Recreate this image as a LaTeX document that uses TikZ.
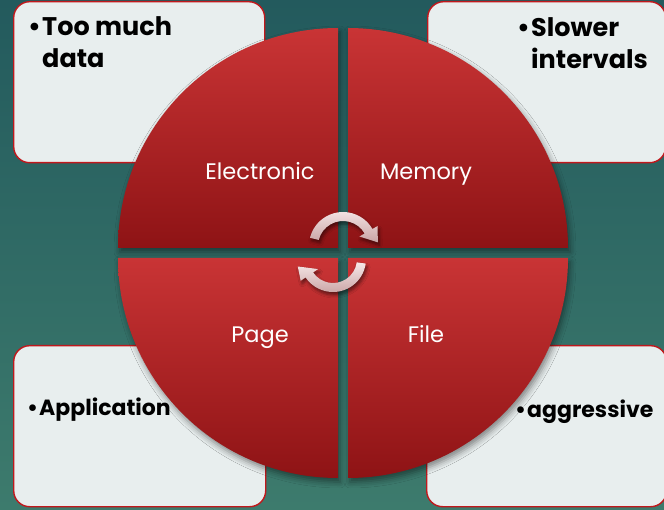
\documentclass[tikz,border=0pt]{standalone}
\usepackage{fontspec}
\setmainfont{Poppins}
\usetikzlibrary{shadows.blur}
\definecolor{bgtop}{HTML}{235A5D}
\definecolor{bgbot}{HTML}{3D7B6D}
\definecolor{redtop}{HTML}{C93435}
\definecolor{redmid}{HTML}{B42729}
\definecolor{redbot}{HTML}{8E1315}
\definecolor{boxfill}{HTML}{E8EEEE}
\definecolor{boxline}{HTML}{C0181C}
\definecolor{arrowtop}{HTML}{F6E8E8}
\definecolor{arrowbot}{HTML}{C9A2A3}
\begin{document}
\begin{tikzpicture}[x=1pt,y=1pt,
  infobox/.style={draw=boxline, line width=1.4pt, fill=boxfill,
    rounded corners=16pt, anchor=north west, inner sep=0pt},
  quad/.style={top color=redtop, middle color=redmid, bottom color=redbot,
    blur shadow={shadow xshift=2pt, shadow yshift=-4pt,
      shadow blur radius=6pt, shadow opacity=45}},
  cycarrow/.style={top color=arrowtop, bottom color=arrowbot,
    blur shadow={shadow xshift=1.5pt, shadow yshift=-3pt,
      shadow blur radius=3pt, shadow opacity=50}},
  qlabel/.style={text=white, font=\fontsize{22.5}{26}\selectfont, inner sep=0pt},
  btext/.style={font=\bfseries\fontsize{22}{32}\selectfont, text=black,
    align=left, inner sep=0pt, anchor=base west},
  btextbig/.style={btext, font=\bfseries\fontsize{25.5}{32}\selectfont},
]
\useasboundingbox (0,0) rectangle (664,509);
\shade[top color=bgtop, bottom color=bgbot] (0,0) rectangle (664,509);

% corner boxes
\node[infobox, minimum width=251pt, minimum height=161pt] (boxTL) at (13,508) {};
\node[infobox, minimum width=238pt, minimum height=161pt] (boxTR) at (427,508) {};
\node[infobox, minimum width=252pt, minimum height=161pt] (boxBL) at (13,164) {};
\node[infobox, minimum width=240pt, minimum height=161pt] (boxBR) at (426,164) {};

% box texts (two-line texts sit on the baseline of their last line)
\node[btextbig] (bulTL) at (28,473) {•};
\node[btextbig] (txtTL) at (42,441) {Too much\\data};
\node[btextbig] (bulTR) at (517,472) {•};
\node[btextbig] (txtTR) at (531,440) {Slower\\intervals};
\node[btext] (bulBL) at (27,93) {•};
\node[btext] (txtBL) at (39,93) {Application};
\node[btext] (bulBR) at (515,92) {•};
\node[btext] (txtBR) at (527,92) {aggressive};

% circle split into four quadrants
\shade[quad] (338,261) -- (118,261) arc[start angle=180, end angle=90, radius=220] -- cycle;
\shade[quad] (348,261) -- (348,481) arc[start angle=90, end angle=0, radius=220] -- cycle;
\shade[quad] (338,251) -- (338,31) arc[start angle=270, end angle=180, radius=220] -- cycle;
\shade[quad] (348,251) -- (568,251) arc[start angle=0, end angle=-90, radius=220] -- cycle;

% quadrant labels
\node[qlabel, anchor=base] (qElec) at (260,329) {Electronic};
\node[qlabel, anchor=base] (qMem) at (426,329) {Memory};
\node[qlabel, anchor=base] (qPage) at (260,166) {Page};
\node[qlabel, anchor=base] (qFile) at (426,166) {File};

% circular arrows in the middle
\shade[cycarrow]
  ([shift={(343,263)}]166:34) arc[start angle=166, end angle=30, radius=34]
  -- ([shift={(343,263)}]30:40) -- ([shift={(343,263)}]6:35)
  -- ([shift={(343,263)}]30:19) -- ([shift={(343,263)}]30:25)
  arc[start angle=30, end angle=166, radius=25] -- cycle;
\shade[cycarrow]
  ([shift={(333,250)}]-8:33) arc[start angle=-8, end angle=-146, radius=33]
  -- ([shift={(333,250)}]-146:39) -- ([shift={(333,250)}]-168:36)
  -- ([shift={(333,250)}]-146:18) -- ([shift={(333,250)}]-146:24)
  arc[start angle=-146, end angle=-8, radius=24] -- cycle;
\end{tikzpicture}
\end{document}
